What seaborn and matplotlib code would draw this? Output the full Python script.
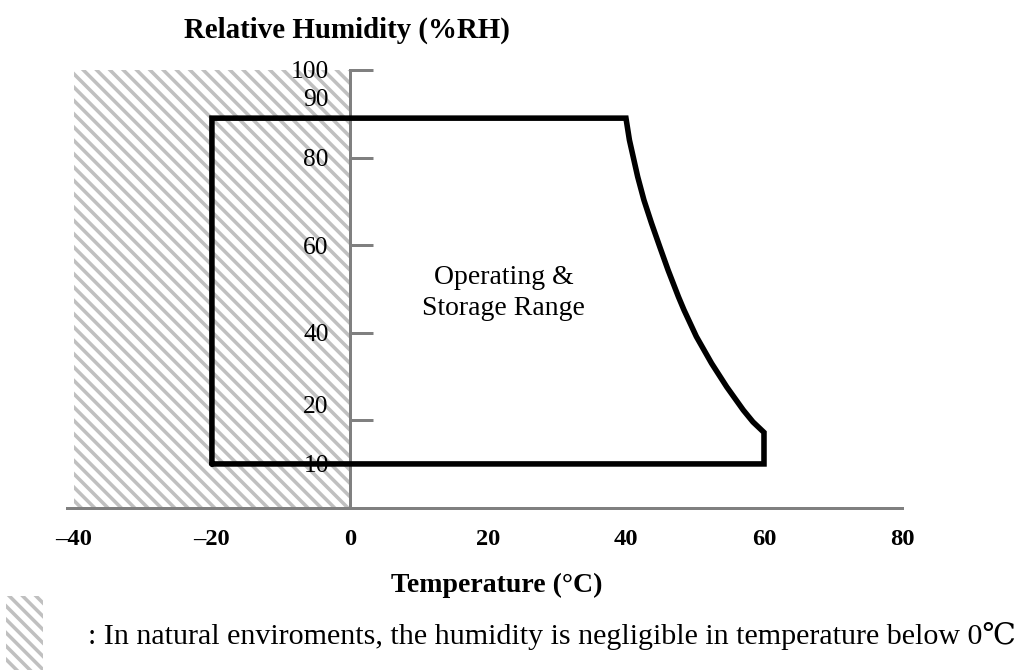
import numpy as np
import pandas as pd
import matplotlib
matplotlib.use("Agg")
import matplotlib.pyplot as plt
import matplotlib.transforms as mtrans
from matplotlib.patches import Rectangle
import seaborn as sb

# operating / storage envelope (temperature degC, humidity %RH)
BOUND_T = [-20, -20, 40, 40.5, 41.7, 42.6, 43.7, 44.9, 46.1, 47.6, 48.4, 50.2, 52.4,
           54.6, 57.0, 58.4, 60, 60, -20]
BOUND_RH = [10, 89, 89, 84.0, 75.6, 70.3, 65.0, 59.6, 54.3, 48.2, 45.2, 39.1, 33.0,
            27.6, 22.3, 19.6, 17.2, 10, 10]

# region where humidity is negligible (below 0 degC)
HATCH_T = [-40, 0]
HATCH_RH = [0, 100]

X_MAJOR = [-40, -20, 0, 20, 40, 60, 80]
X_MINOR = [-40, -30, -20, -10, 0, 10, 20, 30, 40, 50, 60, 70, 80]
Y_LABELED = [10, 20, 40, 60, 80, 90, 100]
Y_MARKS = [20, 40, 60, 80, 100]

GRAY = "#808080"
HATCH_GRAY = "#c0c0c0"

if __name__ == '__main__':
    sb.set_style("white")
    plt.rcParams['font.family'] = ['Liberation Serif', 'DejaVu Serif']
    plt.rcParams['hatch.linewidth'] = 3.2
    plt.rcParams['text.color'] = 'black'
    plt.rcParams['xtick.labelcolor'] = 'black'
    plt.rcParams['ytick.labelcolor'] = 'black'

    DPI = 80
    fig = plt.figure(figsize=(1016 / DPI, 670 / DPI), dpi=DPI)
    ax = fig.add_axes([67 / 1016, 1 - 507.7 / 670, 835 / 1016, 437.7 / 670])
    ax.set_axisbelow(False)

    ax.fill_between(HATCH_T, HATCH_RH[0], HATCH_RH[1], facecolor="none",
                    edgecolor=HATCH_GRAY, hatch="\\\\", linewidth=0, zorder=1)

    df = pd.DataFrame({"temp": BOUND_T, "rh": BOUND_RH})
    sb.lineplot(data=df, x="temp", y="rh", sort=False, estimator=None, color="black",
                linewidth=5, ax=ax, zorder=3, solid_joinstyle="miter", clip_on=False)

    ax.set_xlim(-41, 80)
    ax.set_ylim(0, 100)

    for side in ["top", "right"]:
        ax.spines[side].set_visible(False)
    ax.spines["left"].set_position(("data", 0))
    for side in ["left", "bottom"]:
        ax.spines[side].set_color(GRAY)
        ax.spines[side].set_linewidth(2.7)
        ax.spines[side].set_zorder(2)

    ax.set_xticks(X_MAJOR)
    ax.set_xticks(X_MINOR, minor=True)
    ax.set_xticklabels([str(v).replace("-", "\u2013") for v in X_MAJOR],
                       fontsize=22, fontweight="bold")
    ax.tick_params(axis="x", which="both", direction="in", length=22.5, width=2.7,
                   color=GRAY, pad=19)

    # labels without marks (major) + marks without labels (minor)
    ax.yaxis.remove_overlapping_locs = False
    ax.set_yticks(Y_LABELED)
    ax.set_yticklabels([str(v) for v in Y_LABELED], fontsize=23)
    ax.set_yticks(Y_MARKS, minor=True)
    ax.tick_params(axis="y", which="major", length=0, pad=19)
    ax.tick_params(axis="y", which="minor", direction="in", length=20.5, width=2.7,
                   color=GRAY, left=True)

    # the 90 and 20 labels sit a little above their values in the original
    shift = mtrans.ScaledTranslation(0, 16 / DPI, fig.dpi_scale_trans)
    for lab in ax.get_yticklabels():
        if lab.get_text() in ("90", "20"):
            lab.set_transform(lab.get_transform() + shift)

    ax.set_xlabel("")
    ax.set_ylabel("")

    ax.text(22.3, 49, "Operating &\nStorage Range", ha="center", va="center",
            fontsize=25, linespacing=1.3, zorder=4)

    fig.text(347 / 1016, 1 - 30 / 670, "Relative Humidity (%RH)", ha="center",
             va="center", fontsize=26, fontweight="bold")
    fig.text(497 / 1016, 1 - 585 / 670, "Temperature (°C)", ha="center",
             va="center", fontsize=25, fontweight="bold")

    fig.add_artist(Rectangle((6 / 1016, 0), 37 / 1016, 74 / 670, transform=fig.transFigure,
                             facecolor="none", edgecolor=HATCH_GRAY, hatch="\\\\",
                             linewidth=0))
    fig.text(88 / 1016, 1 - 636 / 670,
             ": In natural enviroments, the humidity is negligible in temperature below 0℃",
             ha="left", va="center", fontsize=27)

    fig.savefig("out.png", dpi=DPI)
